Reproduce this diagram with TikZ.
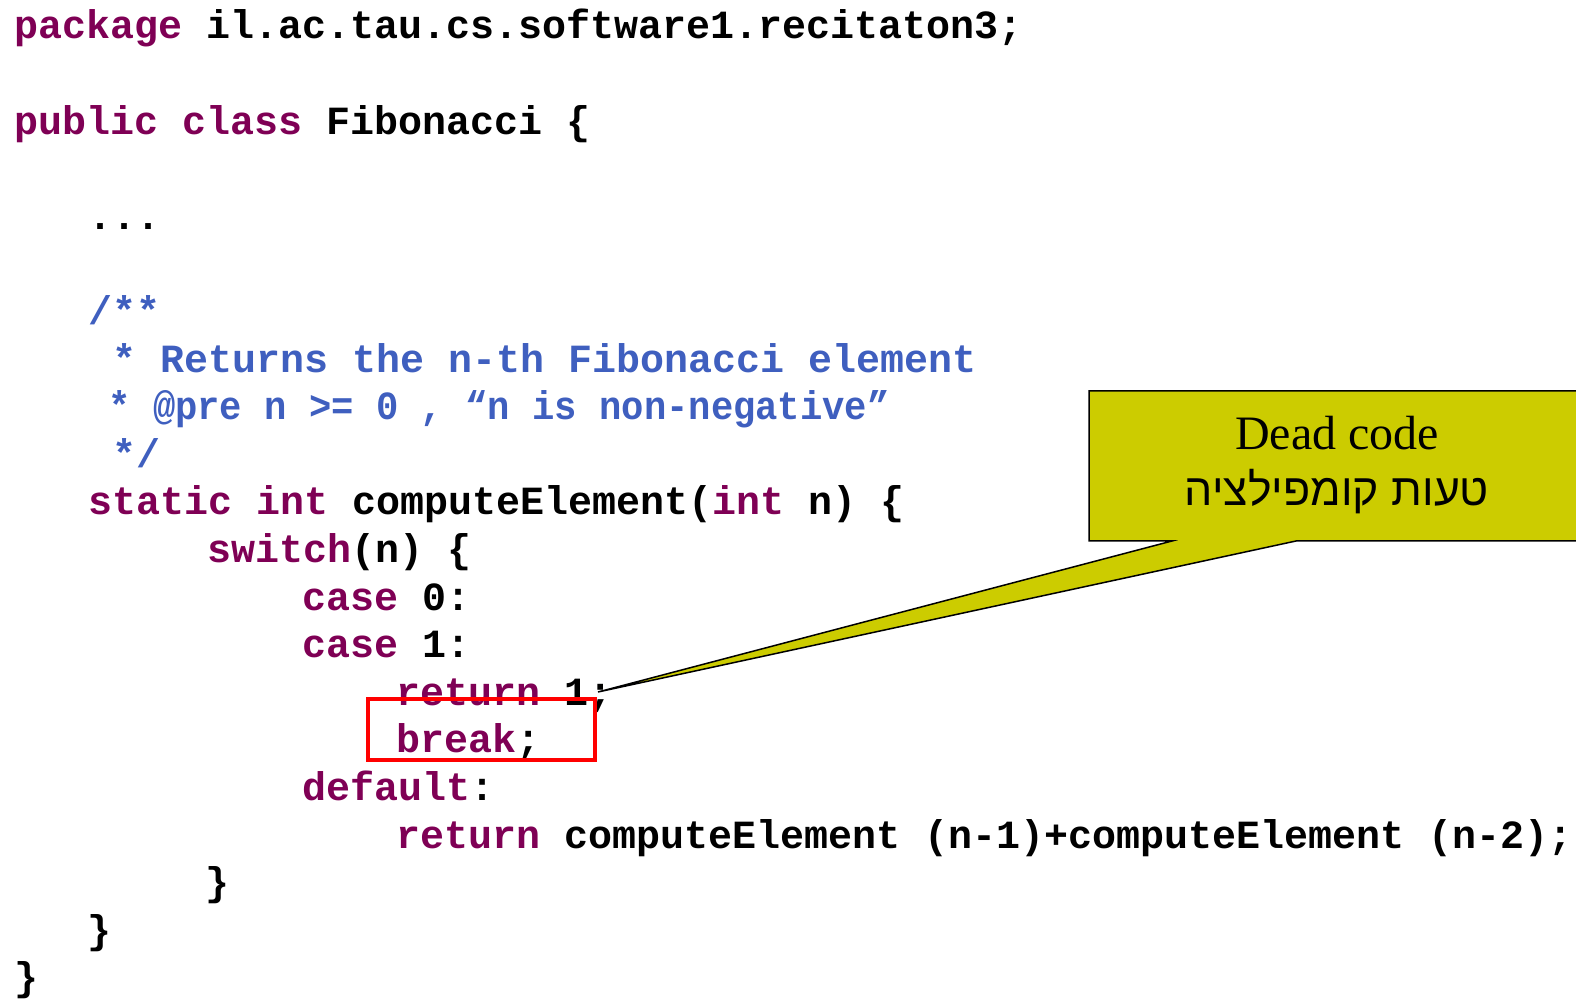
\documentclass[tikz,border=0pt]{standalone}
\usepackage{fontspec}
\setmainfont{Liberation Serif}
\newfontfamily\codefont{Liberation Mono}
\newfontfamily\codenarrow{Liberation Mono}[FakeStretch=0.93]
\newfontfamily\hebfont[Script=Hebrew]{Liberation Sans}
\TeXXeTstate=1
\definecolor{kwc}{HTML}{7F0055}
\definecolor{cmc}{HTML}{3F5FBF}
\definecolor{calloutc}{HTML}{CCCC00}
\newcommand{\kw}[1]{\textcolor{kwc}{#1}}
\begin{document}
\begin{tikzpicture}[x=0.5pt,y=-0.5pt,
  code/.style={anchor=base west, inner sep=0pt, font=\fontsize{20}{24}\selectfont\codefont\bfseries},
  comment/.style={code, text=cmc},
  narrowcomment/.style={comment, font=\fontsize{20}{24}\selectfont\codenarrow\bfseries},
  callouttext/.style={anchor=base, inner sep=0pt, font=\fontsize{24}{28}\selectfont},
  hebtext/.style={anchor=base, inner sep=0pt, font=\fontsize{22.3}{26}\selectfont\hebfont},
  deadbox/.style={draw=red, line width=2pt, inner sep=0pt, minimum width=113.5pt, minimum height=30.5pt},
  calloutshape/.style={fill=calloutc, draw=black, line width=0.75pt, line join=miter}
]
\useasboundingbox (0,0) rectangle (1576,999);
\clip (0,0) rectangle (1576,999);
\def\L#1{39+#1*47.6}
% code lines
\node[code] (l0) at (14,{\L{0}}) {\kw{package} il.ac.tau.cs.software1.recitaton3;};
\node[code] (l2) at (14,{\L{2}}) {\kw{public class} Fibonacci \{};
\node[code] (l4) at (88,{\L{4}}) {...};
\node[comment] (l6) at (88,{\L{6}}) {/**};
\node[comment] (l7) at (112,{\L{7}}) {* Returns the n-th Fibonacci element};
\node[narrowcomment] (l8) at (108,{\L{8}}) {* @pre n >= 0 , “n is non-negative”};
\node[comment] (l9) at (112,{\L{9}}) {*/};
\node[code] (l10) at (88,{\L{10}}) {\kw{static int} computeElement(\kw{int} n) \{};
\node[code] (l11) at (207,{\L{11}}) {\kw{switch}(n) \{};
\node[code] (l12) at (302,{\L{12}}) {\kw{case} 0:};
\node[code] (l13) at (302,{\L{13}}) {\kw{case} 1:};
\node[code] (l14) at (396,{\L{14}}) {\kw{return} 1;};
\node[code] (l15) at (396,{\L{15}}) {\kw{break};};
\node[code] (l16) at (302,{\L{16}}) {\kw{default}:};
\node[code] (l17) at (396,{\L{17}}) {\kw{return} computeElement (n-1)+computeElement (n-2);};
\node[code] (l18) at (205,{\L{18}}) {\}};
\node[code] (l19) at (87,{\L{19}}) {\}};
\node[code] (l20) at (14,{\L{20}}) {\}};
% red box around break
\node[deadbox] (box) at (481.5,729.5) {};
% callout
\coordinate (tip) at (598,692);
\draw[calloutshape] (1089,391) -- (1600,391) -- (1600,541) -- (1296,541) -- (tip) -- (1172,541) -- (1089,541) -- cycle;
\node[callouttext] (dead) at (1337,450) {Dead code};
\node[hebtext] (heb) at (1337,506) {\beginR טעות קומפילציה\endR};
\end{tikzpicture}
\end{document}
